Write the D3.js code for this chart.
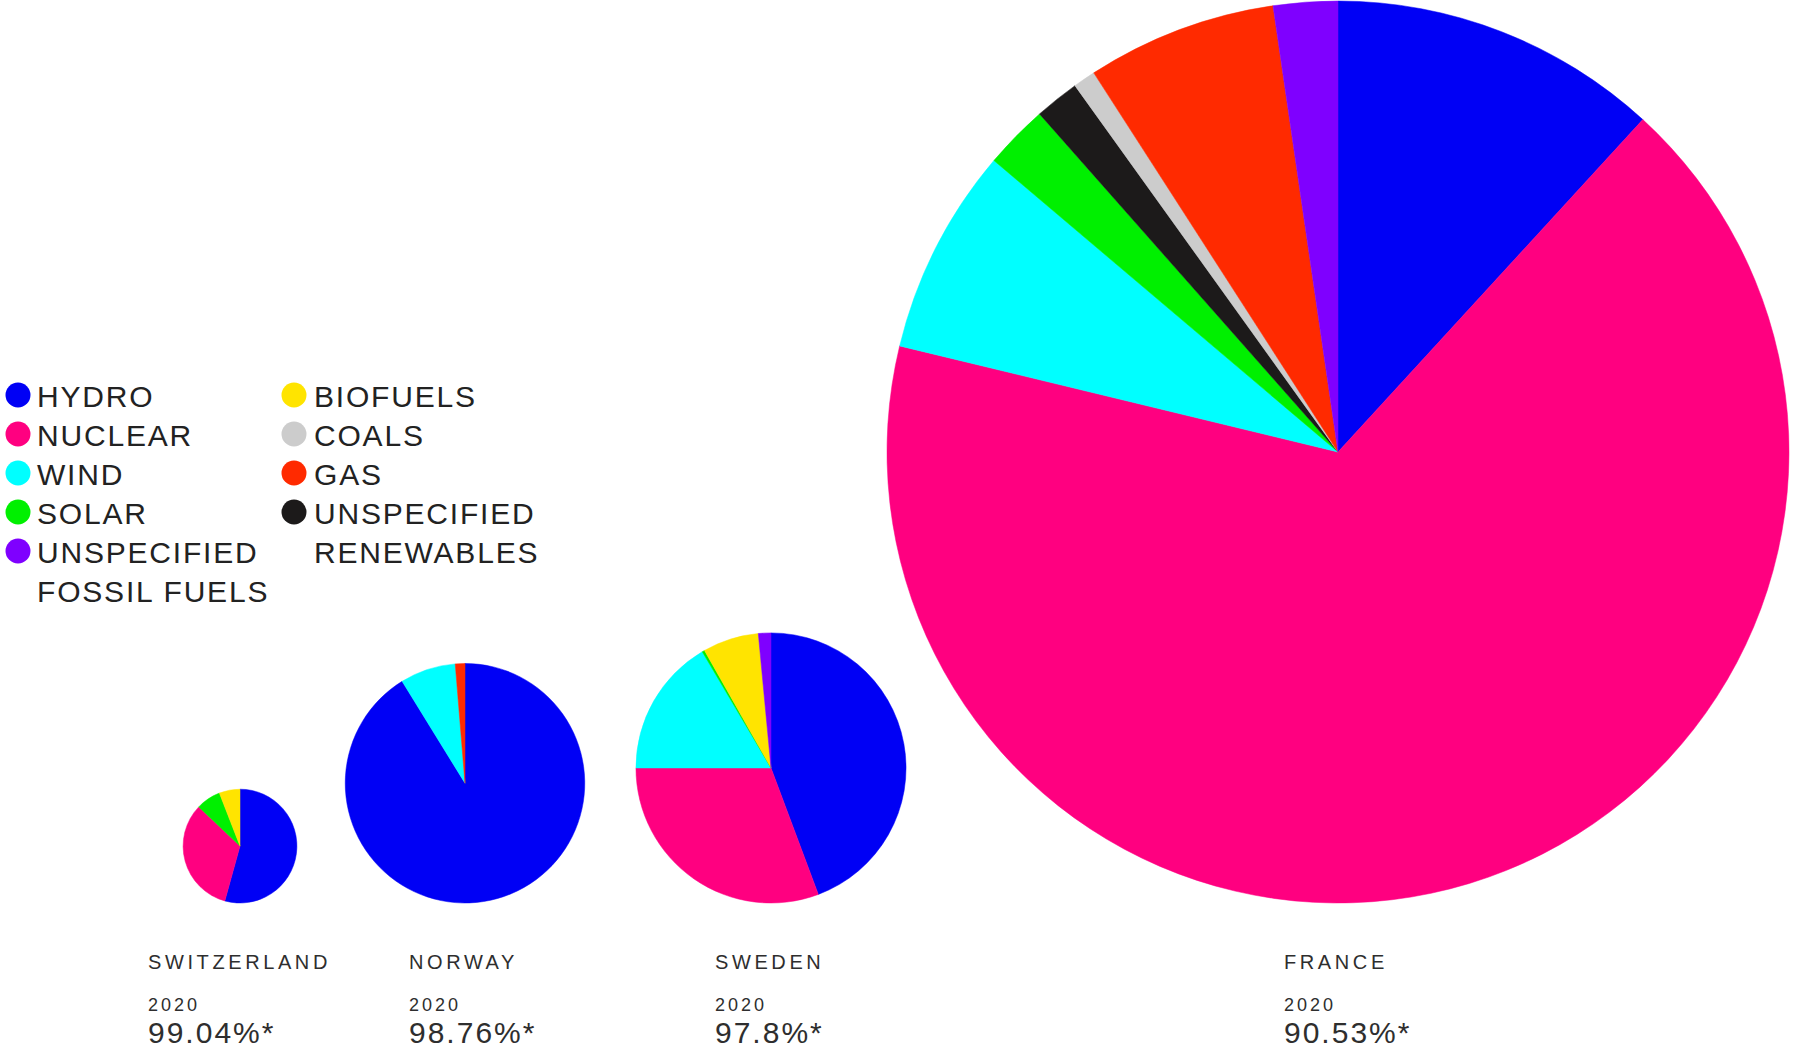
<!DOCTYPE html>
<html>
<head>
<meta charset="utf-8">
<script src="https://cdn.jsdelivr.net/npm/d3@7"></script>
<style>
  html, body { margin: 0; padding: 0; background: #fff; }
  svg { display: block; }
</style>
</head>
<body>
<div id="chart"></div>
<script>
// countries, left to right
const countries = ["SWITZERLAND", "NORWAY", "SWEDEN", "FRANCE"];
const years = ["2020", "2020", "2020", "2020"];
const renewShare = ["99.04%*", "98.76%*", "97.8%*", "90.53%*"];

// total generation (TWh, estimated from circle size)
const totals = [67, 141, 159, 531];

// share of each source, %
const hydro       = [54.3, 91.2, 44.3, 11.8];
const nuclear     = [32.8, 0,    30.7, 66.9];
const wind        = [0,    7.5,  16.5, 7.4];
const solar       = [7.0,  0,    0.3,  2.3];
const biofuels    = [5.9,  0,    6.7,  0];
const renewUnspec = [0,    0,    0,    1.6];
const coals       = [0,    0,    0,    0.8];
const gas         = [0,    1.3,  0,    6.8];
const fossilUnspec= [0,    0,    1.5,  2.3];

// slice order around each pie (clockwise from 12 o'clock)
const sources = ["HYDRO", "NUCLEAR", "WIND", "SOLAR", "BIOFUELS",
                 "UNSPECIFIED RENEWABLES", "COALS", "GAS", "UNSPECIFIED FOSSIL FUELS"];
const seriesValues = [hydro, nuclear, wind, solar, biofuels, renewUnspec, coals, gas, fossilUnspec];

// legend columns
const legendLeft = ["HYDRO", "NUCLEAR", "WIND", "SOLAR", "UNSPECIFIED FOSSIL FUELS"];
const legendRight = ["BIOFUELS", "COALS", "GAS", "UNSPECIFIED RENEWABLES"];

const W = 1818, H = 1056;

const color = d3.scaleOrdinal()
    .domain(sources)
    .range(["#0000f5", "#ff0080", "#00ffff", "#00f000", "#ffe400",
            "#1c1a1a", "#cccccc", "#ff2a00", "#7f00ff"]);

// layout
const centerX = [240, 465, 771, 1338];
const labelX = [148, 409, 715, 1284];
const pieBottom = 903;

const rScale = d3.scaleLinear().domain([0, 531]).range([0, 451]);

const svg = d3.select("#chart").append("svg")
    .attr("width", W)
    .attr("height", H);

svg.append("rect").attr("width", W).attr("height", H).attr("fill", "#fff");

const pie = d3.pie().sort(null).value(d => d.value);

// pies
countries.forEach((c, i) => {
    let r = rScale(totals[i]);
    let slices = sources.map((s, k) => ({ key: s, value: seriesValues[k][i] }))
        .filter(d => d.value > 0);

    let arc = d3.arc().innerRadius(0).outerRadius(r);

    let g = svg.append("g")
        .attr("class", "pie")
        .attr("transform", `translate(${centerX[i]}, ${pieBottom - r})`);

    g.selectAll("path")
        .data(pie(slices))
        .enter()
        .append("path")
        .attr("d", arc)
        .attr("fill", d => color(d.data.key))
        .attr("stroke", d => color(d.data.key))
        .attr("stroke-width", 0.5);

    // labels under each pie
    let lab = svg.append("g")
        .attr("class", "country-label")
        .attr("font-family", "'Liberation Sans', Arial, sans-serif")
        .attr("fill", "#2e2e2e");

    lab.append("text")
        .attr("x", labelX[i])
        .attr("y", 969)
        .attr("font-size", 20)
        .attr("letter-spacing", "3.6px")
        .text(c);

    lab.append("text")
        .attr("x", labelX[i])
        .attr("y", 1011)
        .attr("font-size", 18)
        .attr("letter-spacing", "3px")
        .text(years[i]);

    lab.append("text")
        .attr("x", labelX[i])
        .attr("y", 1043)
        .attr("font-size", 30)
        .attr("letter-spacing", "2px")
        .text(renewShare[i]);
});

// legend
const legend = svg.append("g")
    .attr("class", "legend")
    .attr("font-family", "'Liberation Sans', Arial, sans-serif")
    .attr("font-size", 30)
    .attr("letter-spacing", "1.8px")
    .attr("fill", "#222");

const rowH = 39, row0 = 407;

function legendColumn(items, dotX, textX) {
    let line = 0;
    items.forEach(name => {
        let y = row0 + line * rowH;
        legend.append("circle")
            .attr("cx", dotX)
            .attr("cy", y - 12)
            .attr("r", 12.5)
            .attr("fill", color(name));
        // long names wrap after the first word
        let parts = name.startsWith("UNSPECIFIED") ? ["UNSPECIFIED", name.slice(12)] : [name];
        parts.forEach(p => {
            legend.append("text")
                .attr("x", textX)
                .attr("y", row0 + line * rowH)
                .text(p);
            line++;
        });
    });
}

legendColumn(legendLeft, 18, 37);
legendColumn(legendRight, 294, 314);
</script>
</body>
</html>
